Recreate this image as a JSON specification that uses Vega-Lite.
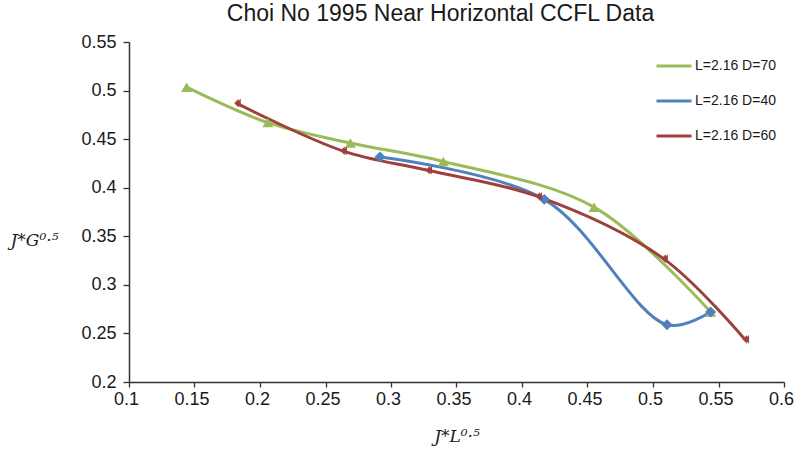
{
  "$schema": "https://vega.github.io/schema/vega-lite/v6.json",
  "width": 655,
  "height": 340,
  "autosize": {"type": "none"},
  "padding": {"left": 129, "top": 42, "right": 18, "bottom": 74},
  "background": "white",
  "config": {
    "view": {"stroke": null},
    "font": "Liberation Sans"
  },
  "title": {
    "text": "Choi No 1995 Near Horizontal CCFL Data",
    "fontSize": 23,
    "fontWeight": "normal",
    "font": "Liberation Sans",
    "color": "#1a1a1a",
    "anchor": "middle",
    "dx": -16,
    "offset": 7
  },
  "data": {
    "values": [
      {"series": "L=2.16 D=70", "x": 0.144, "y": 0.5035},
      {"series": "L=2.16 D=70", "x": 0.206, "y": 0.467},
      {"series": "L=2.16 D=70", "x": 0.269, "y": 0.446},
      {"series": "L=2.16 D=70", "x": 0.340, "y": 0.427},
      {"series": "L=2.16 D=70", "x": 0.455, "y": 0.380},
      {"series": "L=2.16 D=70", "x": 0.544, "y": 0.272},
      {"series": "L=2.16 D=40", "x": 0.2916, "y": 0.4316},
      {"series": "L=2.16 D=40", "x": 0.417, "y": 0.388},
      {"series": "L=2.16 D=40", "x": 0.5107, "y": 0.259},
      {"series": "L=2.16 D=40", "x": 0.544, "y": 0.272},
      {"series": "L=2.16 D=60", "x": 0.182, "y": 0.487},
      {"series": "L=2.16 D=60", "x": 0.263, "y": 0.438},
      {"series": "L=2.16 D=60", "x": 0.328, "y": 0.418},
      {"series": "L=2.16 D=60", "x": 0.412, "y": 0.391},
      {"series": "L=2.16 D=60", "x": 0.508, "y": 0.327},
      {"series": "L=2.16 D=60", "x": 0.570, "y": 0.244}
    ]
  },
  "encoding": {
    "x": {
      "field": "x", "type": "quantitative",
      "scale": {"domain": [0.1, 0.6], "nice": false, "zero": false},
      "axis": {
        "values": [0.1, 0.15, 0.2, 0.25, 0.3, 0.35, 0.4, 0.45, 0.5, 0.55, 0.6],
        "format": ".2~f",
        "grid": false,
        "labelFlush": false,
        "domainColor": "#333333", "domainWidth": 1.5,
        "tickColor": "#333333", "tickWidth": 1.3, "tickSize": 5,
        "labelFontSize": 18, "labelColor": "#1a1a1a", "labelPadding": 3,
        "labelFont": "Liberation Sans",
        "labelOffset": -3,
        "title": "J*L⁰·⁵",
        "titleFont": "DejaVu Serif", "titleFontStyle": "italic", "titleFontWeight": "normal",
        "titleFontSize": 17, "titleColor": "#1a1a1a", "titlePadding": 20
      }
    },
    "y": {
      "field": "y", "type": "quantitative",
      "scale": {"domain": [0.2, 0.55], "nice": false, "zero": false},
      "axis": {
        "values": [0.2, 0.25, 0.3, 0.35, 0.4, 0.45, 0.5, 0.55],
        "format": ".2~f",
        "grid": false,
        "labelFlush": false,
        "domainColor": "#333333", "domainWidth": 1.5,
        "tickColor": "#333333", "tickWidth": 1.3, "tickSize": 6,
        "labelFontSize": 18, "labelColor": "#1a1a1a", "labelPadding": 7,
        "labelFont": "Liberation Sans",
        "title": "J*G⁰·⁵",
        "titleAngle": 0,
        "titleX": -95, "titleY": 198,
        "titleAlign": "center", "titleBaseline": "middle",
        "titleFont": "DejaVu Serif", "titleFontStyle": "italic", "titleFontWeight": "normal",
        "titleFontSize": 17, "titleColor": "#1a1a1a"
      }
    }
  },
  "resolve": {"legend": {"color": "independent", "shape": "independent"}},
  "layer": [
    {
      "mark": {"type": "line", "interpolate": "catmull-rom", "strokeWidth": 3},
      "encoding": {
        "color": {
          "field": "series", "type": "nominal",
          "scale": {
            "domain": ["L=2.16 D=70", "L=2.16 D=40", "L=2.16 D=60"],
            "range": ["#9BBB59", "#4F81BD", "#A0403D"]
          },
          "legend": {
            "title": null,
            "orient": "none",
            "legendX": 526,
            "legendY": 5,
            "symbolType": "stroke",
            "symbolStrokeWidth": 3,
            "symbolSize": 1225,
            "rowPadding": 9,
            "labelFontSize": 14,
            "labelFont": "Liberation Sans",
            "labelColor": "#1a1a1a",
            "labelOffset": 2
          }
        }
      }
    },
    {
      "mark": {"type": "point", "filled": true, "size": 120, "opacity": 1},
      "encoding": {
        "color": {
          "field": "series", "type": "nominal",
          "legend": null
        },
        "shape": {
          "field": "series", "type": "nominal",
          "scale": {
            "domain": ["L=2.16 D=70", "L=2.16 D=40", "L=2.16 D=60"],
            "range": ["triangle-up", "diamond", "M 0.4 -0.8 L -0.4 0 L 0.4 0.8 M 0.8 -0.8 L 0 0 L 0.8 0.8"]
          },
          "legend": null
        }
      }
    }
  ]
}
